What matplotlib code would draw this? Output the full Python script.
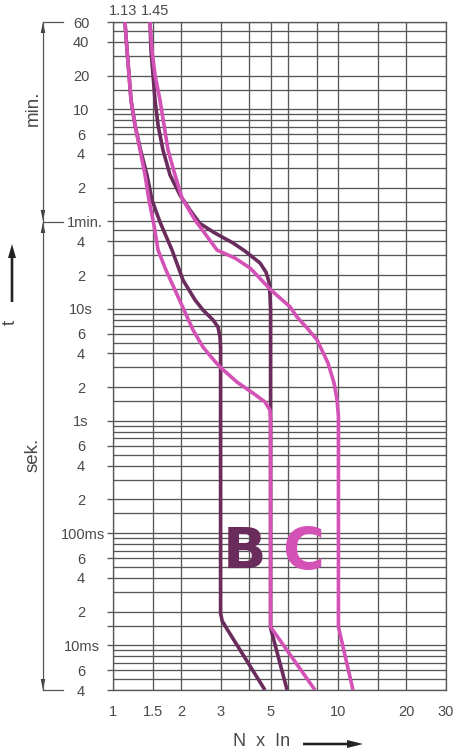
import matplotlib
matplotlib.use("Agg")
import matplotlib.pyplot as plt
import matplotlib.transforms as mtransforms
from matplotlib.patches import Polygon, FancyArrow

# ---------------- data (N x In, seconds) ----------------
b_lower_x = [1.13, 1.154, 1.178, 1.202, 1.252, 1.325, 1.415, 1.489, 1.616, 1.827, 2.045,
             2.311, 2.507, 2.778, 2.923, 2.983, 3.0, 3.0, 3.05, 3.19, 4.72]
b_lower_t = [3600, 2023, 1212, 725, 434, 260, 156, 93, 59.3, 33.4, 18.0,
             12.0, 9.75, 7.95, 6.88, 5.6, 4.5, 0.0194, 0.0165, 0.0142, 0.004]

b_upper_x = [1.459, 1.474, 1.505, 1.536, 1.584, 1.666, 1.79, 1.983, 2.196, 2.432, 2.835,
             3.407, 3.85, 4.488, 4.773, 4.922, 4.972, 5.0, 5.0, 5.92]
b_upper_t = [3600, 2023, 1212, 725, 434, 260, 156, 103, 75.9, 57.5, 47.3,
             38.6, 32.7, 25.6, 21.2, 17.3, 13.2, 9.75, 0.0143, 0.004]

c_lower_x = [1.13, 1.154, 1.178, 1.202, 1.252, 1.318, 1.387, 1.444, 1.52, 1.584, 1.718,
             1.884, 2.065, 2.265, 2.507, 2.749, 2.983, 3.549, 4.18, 4.72, 4.97, 5.0, 5.0, 7.87]
c_lower_t = [3600, 2023, 1212, 725, 434, 260, 156, 93, 55.7, 33.4, 22.1,
             14.7, 9.75, 6.47, 4.56, 3.64, 3.03, 2.22, 1.77, 1.48, 1.25, 1.05, 0.0146, 0.004]

c_upper_x = [1.459, 1.489, 1.536, 1.616, 1.684, 1.754, 1.884, 2.024, 2.311, 2.893, 3.477,
             4.054, 5.02, 6.1, 6.55, 7.26, 8.04, 8.99, 9.56, 9.86, 10.0, 10.0, 11.6]
c_upper_t = [3600, 2023, 1212, 725, 434, 260, 156, 97, 61.8, 33.4, 28.3,
             23.1, 14.7, 10.4, 8.45, 6.74, 5.27, 3.28, 2.18, 1.54, 1.1, 0.0146, 0.004]

x_major = [1, 1.5, 2, 3, 5, 10, 20, 30]
x_major_labels = ["1", "1.5", "2", "3", "5", "10", "20", "30"]
x_minor = [4, 6, 8, 15]

y_major = [3600, 2400, 1200, 600, 360, 240, 120, 60, 40, 20, 10, 6, 4, 2, 1,
           0.6, 0.4, 0.2, 0.1, 0.06, 0.04, 0.02, 0.015, 0.01, 0.006, 0.004]
y_major_labels = ["60", "40", "20", "10", "6", "4", "2", "1min.", "4", "2", "10s", "6", "4", "2", "1s",
                  "6", "4", "2", "100ms", "6", "4", "2", "", "10ms", "6", "4"]
y_minor = [0.005, 0.007, 0.008, 0.009, 0.03, 0.05, 0.07, 0.08, 0.09, 0.15,
           0.3, 0.5, 0.7, 0.8, 0.9, 1.5, 3, 5, 7, 8, 9, 15, 30, 50,
           90, 180, 300, 420, 480, 540, 900, 1800, 3000]

top_labels = ["1.13", "1.45"]
top_label_x = [1.13, 1.45]

# ---------------- style ----------------
B_COL = "#6a2c5c"
C_COL = "#d452b6"
GRID = "#575757"
TXT = "#4a4a4a"
plt.rcParams["font.family"] = ["Liberation Sans", "DejaVu Sans"]

W, H = 459, 755
fig = plt.figure(figsize=(W / 100, H / 100), dpi=100)
L, R, T, Bt = 113, 446, 22, 690
ax = fig.add_axes([L / W, 1 - Bt / H, (R - L) / W, (Bt - T) / H])
ax.set_xscale("log")
ax.set_yscale("log")
ax.set_xlim(1, 30)
ax.set_ylim(0.004, 3600)

ax.set_xticks(x_major)
ax.set_xticklabels(x_major_labels)
ax.set_xticks(x_minor, minor=True)
ax.set_xticklabels([], minor=True)
ax.set_yticks(y_major)
ax.set_yticklabels(y_major_labels)
ax.set_yticks(y_minor, minor=True)
ax.set_yticklabels([], minor=True)

ax.grid(True, which="both", color=GRID, lw=0.95)
ax.set_axisbelow(True)
for s in ax.spines.values():
    s.set_color(GRID)
    s.set_linewidth(0.95)

ax.tick_params(axis="x", which="both", length=0, pad=11, labelsize=10.5, labelcolor=TXT)
ax.tick_params(axis="y", which="major", length=4, width=0.95, color=GRID, pad=19,
               labelsize=10.5, labelcolor=TXT)
ax.tick_params(axis="y", which="minor", length=0)
shift = {"1min.": 4, "100ms": 2, "10ms": 1}
for tick, lab in zip(ax.yaxis.get_major_ticks(), y_major_labels):
    lbl = tick.label1
    lbl.set_horizontalalignment("center")
    if lab in shift:
        lbl.set_transform(lbl.get_transform() +
                          mtransforms.ScaledTranslation(shift[lab] / 100, 0, fig.dpi_scale_trans))

lw = 2.6
ax.plot(b_lower_x, b_lower_t, color=B_COL, lw=lw, solid_capstyle="butt", zorder=3)
ax.plot(b_upper_x, b_upper_t, color=B_COL, lw=lw, solid_capstyle="butt", zorder=3)
ax.plot(c_lower_x, c_lower_t, color=C_COL, lw=lw, solid_capstyle="butt", zorder=4)
ax.plot(c_upper_x, c_upper_t, color=C_COL, lw=lw, solid_capstyle="butt", zorder=4)

ax.text(3.85, 0.066, "B", color=B_COL, fontsize=41, fontweight="bold",
        family=["DejaVu Sans"], ha="center", va="center", zorder=5)
ax.text(7.0, 0.066, "C", color=C_COL, fontsize=41, fontweight="bold",
        family=["DejaVu Sans"], ha="center", va="center", zorder=5)

offs = [-2, 6]
for lab, xv, o in zip(top_labels, top_label_x, offs):
    ax.annotate(lab, xy=(xv, 3600), xytext=(o * 0.72, 3), textcoords="offset points",
                ha="center", va="bottom", fontsize=10.5, color=TXT, annotation_clip=False)

# ---------------- decorations in pixel space ----------------
ov = fig.add_axes([0, 0, 1, 1])
ov.set_xlim(0, W)
ov.set_ylim(H, 0)
ov.axis("off")
ov.patch.set_visible(False)

bx = 43
y1min = 221.5
ov.plot([bx, bx], [T, Bt], color="#555", lw=0.9)
for yy in (T, y1min, Bt):
    ov.plot([bx, 63], [yy, yy], color="#555", lw=0.9)

def head(tipy, direction):
    # direction -1: pointing up, +1: pointing down
    base = tipy - direction * 11
    ov.add_patch(Polygon([[bx, tipy], [bx - 2.2, base], [bx + 2.2, base]], closed=True,
                         color="#333", lw=0))

head(T, -1)
head(y1min - 0.5, 1)
head(y1min + 0.5, -1)
head(Bt, 1)

ov.text(33, 108, "min.", rotation=90, ha="center", va="center", fontsize=13.5, color=TXT)
ov.text(33, 455, "sek.", rotation=90, ha="center", va="center", fontsize=13.5, color=TXT)
ov.text(10, 322, "t", rotation=90, ha="center", va="center", fontsize=13.5, color=TXT)
ov.add_patch(FancyArrow(12, 302, 0, -58, width=2.6, head_width=8, head_length=14,
                        length_includes_head=True, color="#222", lw=0))
ov.text(262, 742, "N  x  In", ha="center", va="center", fontsize=13, color=TXT)
ov.add_patch(FancyArrow(303, 744, 60, 0, width=2.6, head_width=8, head_length=16,
                        length_includes_head=True, color="#222", lw=0))

fig.savefig("out.png", dpi=100)
